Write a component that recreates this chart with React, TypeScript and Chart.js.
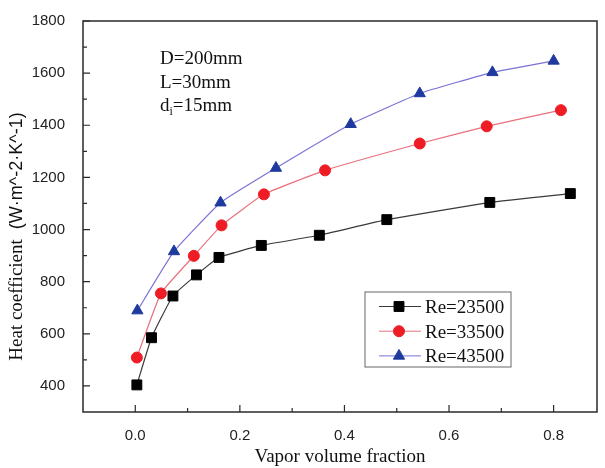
import React, { useEffect, useRef } from 'react';
import { Chart, registerables } from 'chart.js';
import { drawPoint } from 'chart.js/helpers';

Chart.register(...registerables);

// ---- data ----
const X_TICKS = [0, 0.2, 0.4, 0.6, 0.8];
const X_MINOR = [0.1, 0.3, 0.5, 0.7];
const Y_TICKS = [400, 600, 800, 1000, 1200, 1400, 1600, 1800];
const Y_MINOR = [500, 700, 900, 1100, 1300, 1500, 1700];
const X_MIN = -0.1;
const X_MAX = 0.883;
const Y_MIN = 300;
const Y_MAX = 1800;

const SERIES_NAMES = ['Re=23500', 'Re=33500', 'Re=43500'];
const RE23500_X = [0.003, 0.031, 0.072, 0.117, 0.16, 0.241, 0.352, 0.481, 0.678, 0.832];
const RE23500_Y = [404, 585, 745, 826, 893, 939, 978, 1038, 1104, 1138];
const RE33500_X = [0.003, 0.049, 0.112, 0.165, 0.246, 0.363, 0.544, 0.672, 0.814];
const RE33500_Y = [509, 755, 899, 1016, 1135, 1227, 1330, 1396, 1458];
const RE43500_X = [0.004, 0.074, 0.163, 0.269, 0.412, 0.544, 0.683, 0.8];
const RE43500_Y = [689, 916, 1103, 1236, 1404, 1522, 1603, 1647];

const NOTE_LINES = ['D=200mm', 'L=30mm'];
const NOTE_D = 'd';
const NOTE_SUB = 'i';
const NOTE_REST = '=15mm';
const X_TITLE = 'Vapor volume fraction';
const Y_TITLE_MAIN = 'Heat coefficient';
const Y_TITLE_UNIT = '(W·m^-2·K^-1)';

const LINE_COLORS = ['#3a3a3a', '#e8707c', '#7a72d6'];
const MARK_COLORS = ['#000000', '#ee1c24', '#1f3a9e'];
const MARK_STYLES = ['rect', 'circle', 'triangle'];
const MARK_RADII = [7, 5.5, 6.5];

const SERIF = '"Liberation Serif", "Times New Roman", serif';
const SANS = '"Liberation Sans", Arial, sans-serif';

function pts(xs: number[], ys: number[]) {
  return xs.map((x, i) => ({ x, y: ys[i] }));
}

const decorPlugin = {
  id: 'decor',
  afterDraw(chart: any) {
    const { ctx, chartArea } = chart;
    const { left, right, top, bottom } = chartArea;
    const xs = chart.scales.x;
    const ys = chart.scales.y;
    ctx.save();
    // frame
    ctx.strokeStyle = '#2a2a2a';
    ctx.lineWidth = 1.5;
    ctx.strokeRect(left, top, right - left, bottom - top);
    // inward ticks
    ctx.lineWidth = 1.2;
    ctx.beginPath();
    X_TICKS.forEach((v) => {
      const p = xs.getPixelForValue(v);
      ctx.moveTo(p, bottom);
      ctx.lineTo(p, bottom - 7);
    });
    X_MINOR.forEach((v) => {
      const p = xs.getPixelForValue(v);
      ctx.moveTo(p, bottom);
      ctx.lineTo(p, bottom - 4);
    });
    Y_TICKS.forEach((v) => {
      const p = ys.getPixelForValue(v);
      ctx.moveTo(left, p);
      ctx.lineTo(left + 7, p);
    });
    Y_MINOR.forEach((v) => {
      const p = ys.getPixelForValue(v);
      ctx.moveTo(left, p);
      ctx.lineTo(left + 4, p);
    });
    ctx.stroke();

    // y title
    ctx.fillStyle = '#111';
    ctx.textBaseline = 'middle';
    ctx.font = `19px ${SERIF}`;
    const w1 = ctx.measureText(Y_TITLE_MAIN).width;
    ctx.font = `18px ${SANS}`;
    const w2 = ctx.measureText(Y_TITLE_UNIT).width;
    const gap = 10;
    const total = w1 + gap + w2;
    ctx.save();
    ctx.translate(17, (top + bottom) / 2 + 20);
    ctx.rotate(-Math.PI / 2);
    ctx.textAlign = 'left';
    ctx.font = `19px ${SERIF}`;
    ctx.fillText(Y_TITLE_MAIN, -total / 2, 0);
    ctx.font = `18px ${SANS}`;
    ctx.fillText(Y_TITLE_UNIT, -total / 2 + w1 + gap, 0);
    ctx.restore();

    // annotation
    ctx.textBaseline = 'alphabetic';
    ctx.textAlign = 'left';
    ctx.font = `19px ${SERIF}`;
    const nx = left + 77;
    ctx.fillText(NOTE_LINES[0], nx, top + 43);
    ctx.fillText(NOTE_LINES[1], nx, top + 67);
    ctx.fillText(NOTE_D, nx, top + 90);
    const dw = ctx.measureText(NOTE_D).width;
    ctx.font = `12px ${SERIF}`;
    ctx.fillText(NOTE_SUB, nx + dw, top + 94);
    const iw = ctx.measureText(NOTE_SUB).width;
    ctx.font = `19px ${SERIF}`;
    ctx.fillText(NOTE_REST, nx + dw + iw, top + 90);

    // legend
    const lx = right - 232;
    const ly = top + 271;
    ctx.strokeStyle = '#666';
    ctx.lineWidth = 1;
    ctx.strokeRect(lx, ly, 146, 75);
    chart.data.datasets.forEach((ds: any, i: number) => {
      const cy = ly + 14.5 + i * 24.7;
      ctx.strokeStyle = ds.borderColor;
      ctx.lineWidth = 1;
      ctx.beginPath();
      ctx.moveTo(lx + 14, cy);
      ctx.lineTo(lx + 56, cy);
      ctx.stroke();
      ctx.fillStyle = ds.pointBackgroundColor;
      ctx.strokeStyle = ds.pointBorderColor;
      drawPoint(ctx, { pointStyle: ds.pointStyle, rotation: 0, radius: ds.pointRadius, borderWidth: 1 }, lx + 34, cy);
      ctx.fillStyle = '#111';
      ctx.font = `19px ${SERIF}`;
      ctx.textBaseline = 'alphabetic';
      ctx.fillText(ds.label, lx + 60, cy + 6.5);
    });
    ctx.restore();
  },
};

export default function App() {
  const ref = useRef<HTMLCanvasElement | null>(null);
  useEffect(() => {
    if (!ref.current) return;
    const series = [
      pts(RE23500_X, RE23500_Y),
      pts(RE33500_X, RE33500_Y),
      pts(RE43500_X, RE43500_Y),
    ];
    const chart = new Chart(ref.current, {
      type: 'line',
      data: {
        datasets: series.map((d, i) => ({
          label: SERIES_NAMES[i],
          data: d,
          borderColor: LINE_COLORS[i],
          borderWidth: 1.2,
          pointStyle: MARK_STYLES[i] as any,
          pointRadius: MARK_RADII[i],
          pointBackgroundColor: MARK_COLORS[i],
          pointBorderColor: MARK_COLORS[i],
          pointBorderWidth: 1,
          tension: 0.12,
          fill: false,
        })),
      },
      options: {
        animation: false,
        responsive: true,
        maintainAspectRatio: false,
        layout: { padding: { top: 21, right: 2, left: 0, bottom: 0 } },
        plugins: {
          legend: { display: false },
          tooltip: { enabled: false },
        },
        scales: {
          x: {
            type: 'linear',
            min: X_MIN,
            max: X_MAX,
            grid: { display: false },
            border: { display: false },
            afterBuildTicks: (s: any) => {
              s.ticks = X_TICKS.map((v) => ({ value: v }));
            },
            afterFit: (s: any) => {
              s.height = 56;
            },
            ticks: {
              padding: 7,
              color: '#222',
              font: { family: SANS, size: 15 },
              callback: (v: any) => Number(v).toFixed(1),
            },
            title: {
              display: true,
              text: X_TITLE,
              color: '#111',
              font: { family: SERIF, size: 19 },
              padding: { top: 0, bottom: 0 },
            },
          },
          y: {
            type: 'linear',
            min: Y_MIN,
            max: Y_MAX,
            grid: { display: false },
            border: { display: false },
            afterBuildTicks: (s: any) => {
              s.ticks = Y_TICKS.map((v) => ({ value: v }));
            },
            afterFit: (s: any) => {
              s.width = 83;
            },
            ticks: {
              padding: 10,
              color: '#222',
              font: { family: SANS, size: 15 },
              callback: (v: any) => String(v),
            },
          },
        },
      },
      plugins: [decorPlugin],
    });
    return () => chart.destroy();
  }, []);
  return (
    <div style={{ position: 'fixed', left: 0, top: 0, width: 605, height: 468, background: '#fff' }}>
      <canvas ref={ref} />
    </div>
  );
}
